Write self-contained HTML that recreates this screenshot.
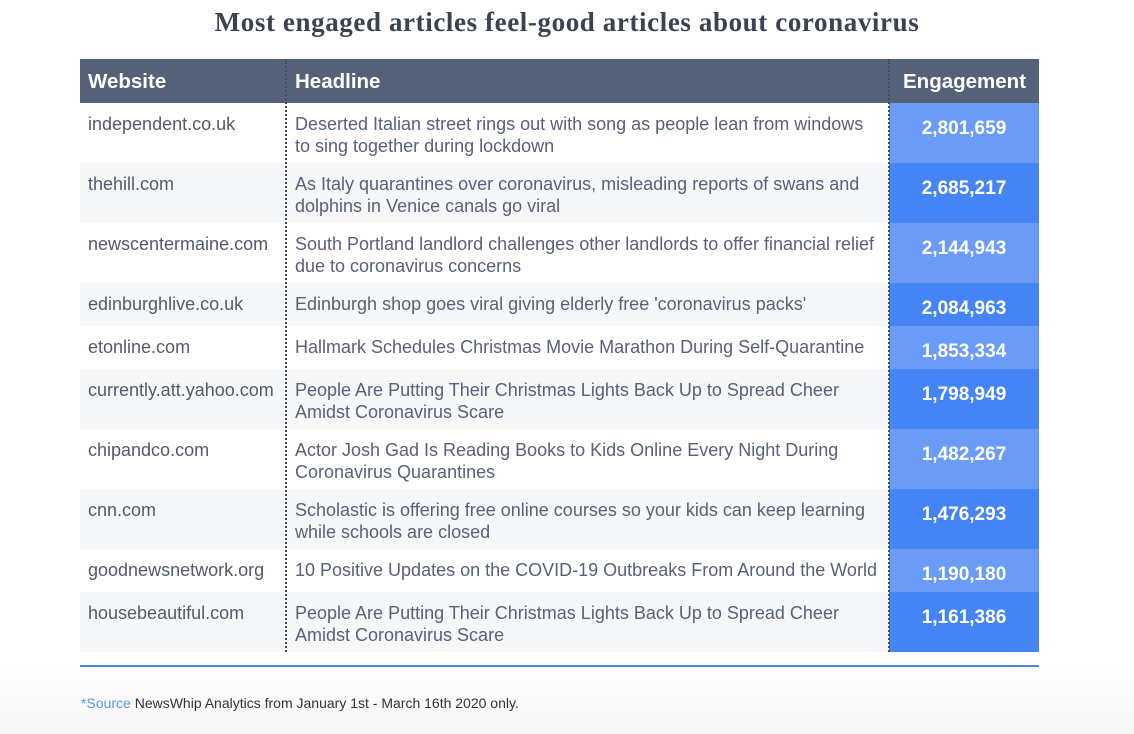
<!DOCTYPE html>
<html><head><meta charset="utf-8">
<style>
body{margin:0;width:1134px;height:734px;position:relative;background:#fff;font-family:"Liberation Sans",Arial,sans-serif;overflow:hidden}
.bg{position:absolute;left:0;top:660px;width:1134px;height:74px;background:linear-gradient(#fff,#f6f6f6)}
h1{position:absolute;left:0;width:1134px;top:7px;margin:0;text-align:center;font-family:"Liberation Serif",serif;font-size:27px;letter-spacing:0.6px;font-weight:bold;color:#3b4352}
.hdr{position:absolute;left:80px;top:59px;width:959px;height:44px;background:#556179}
.h{position:absolute;top:59px;height:44px;line-height:45px;color:#fff;font-weight:bold;font-size:20.5px}
.row{position:absolute;left:80px;width:959px}
.c{position:absolute;top:10px;font-size:18px;line-height:22px;white-space:pre}
.w{left:8px;color:#525b6b}
.t{left:215px;color:#576179}
.e{position:absolute;left:809px;width:150px;top:0;bottom:0;color:#fff;font-weight:bold;font-size:19px;text-align:center;padding-top:15px;box-sizing:border-box;line-height:22px}
.dot{position:absolute;top:59px;height:593px;border-left:2px dotted #444c5c}
</style></head><body>
<div class="bg"></div>
<h1>Most engaged articles feel-good articles about coronavirus</h1>
<div class="hdr"></div>
<div class="h" style="left:88px">Website</div>
<div class="h" style="left:295px">Headline</div>
<div class="h" style="left:903px">Engagement</div>
<div id="rows"></div>
<div class="dot" style="left:285px"></div>
<div class="dot" style="left:888px"></div>
<div style="position:absolute;left:80px;top:665px;width:959px;height:2px;background:#4a86f0"></div>
<div style="position:absolute;left:81px;top:695px;font-size:14px;color:#333"><span style="color:#5b95f5">*Source</span> NewsWhip Analytics from January 1st - March 16th 2020 only.</div>
<script>
const sites=["independent.co.uk","thehill.com","newscentermaine.com","edinburghlive.co.uk","etonline.com","currently.att.yahoo.com","chipandco.com","cnn.com","goodnewsnetwork.org","housebeautiful.com"];
const headlines=["Deserted Italian street rings out with song as people lean from windows\nto sing together during lockdown","As Italy quarantines over coronavirus, misleading reports of swans and\ndolphins in Venice canals go viral","South Portland landlord challenges other landlords to offer financial relief\ndue to coronavirus concerns","Edinburgh shop goes viral giving elderly free 'coronavirus packs'","Hallmark Schedules Christmas Movie Marathon During Self-Quarantine","People Are Putting Their Christmas Lights Back Up to Spread Cheer\nAmidst Coronavirus Scare","Actor Josh Gad Is Reading Books to Kids Online Every Night During\nCoronavirus Quarantines","Scholastic is offering free online courses so your kids can keep learning\nwhile schools are closed","10 Positive Updates on the COVID-19 Outbreaks From Around the World","People Are Putting Their Christmas Lights Back Up to Spread Cheer\nAmidst Coronavirus Scare"];
const engagement=[2801659,2685217,2144943,2084963,1853334,1798949,1482267,1476293,1190180,1161386];
const box=document.getElementById('rows');
let y=103;
for(let i=0;i<sites.length;i++){
  const h=headlines[i].indexOf('\n')>=0?60:43;
  const r=document.createElement('div');
  
  
  r.className='row';r.style.top=y+'px';r.style.height=h+'px';
  r.style.background=i%2?'#f6f7f9':'#fff';
  const w=document.createElement('div');
  
  
  w.className='c w';w.textContent=sites[i];
  const t=document.createElement('div');
  
  
  t.className='c t';t.textContent=headlines[i];
  const e=document.createElement('div');
  
  
  e.className='e';e.style.background=i%2?'#4584f5':'#6a9cf7';
  e.textContent=engagement[i].toLocaleString('en-US');
  r.append(w,t,e);box.appendChild(r);
  y+=h;
}
</script>
</body></html>
